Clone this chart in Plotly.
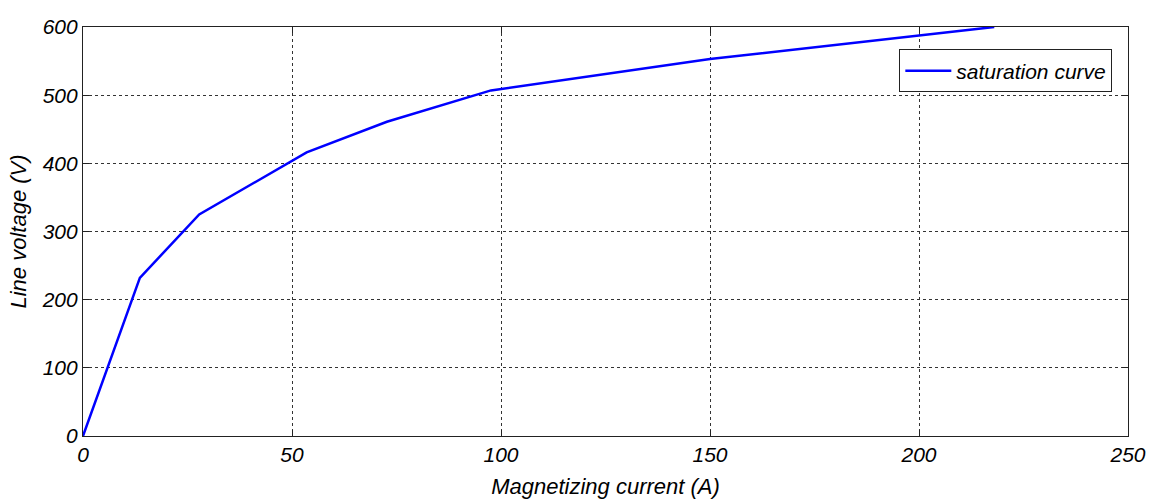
import plotly.graph_objects as go

current_A = [0, 13.6, 27.8, 53.5, 72.7, 97.6, 150, 200, 218]
voltage_V = [0, 232, 325, 416, 461, 507, 553, 588, 600]
series_name = "saturation curve"
x_ticks = [0, 50, 100, 150, 200, 250]
y_ticks = [0, 100, 200, 300, 400, 500, 600]

fig = go.Figure()
fig.add_trace(go.Scatter(x=current_A, y=voltage_V, mode="lines", name=series_name,
                         line=dict(color="#0000ff", width=2.5)))

axis_common = dict(showline=True, linecolor="#222", linewidth=1.2, mirror="ticks",
                   ticks="inside", ticklen=6, tickcolor="#222",
                   showgrid=True, gridcolor="#333", griddash="dot", gridwidth=1,
                   zeroline=False, automargin=False,
                   tickfont=dict(size=21, color="black"))

fig.update_layout(
    width=1155, height=499,
    margin=dict(l=83, r=27, t=27, b=63),
    paper_bgcolor="white", plot_bgcolor="white",
    font=dict(family="Liberation Sans", style="italic", color="black"),
    xaxis=dict(range=[0, 250], tickvals=x_ticks,
               title=dict(text="Magnetizing current (A)", font=dict(size=22), standoff=14),
               **axis_common),
    yaxis=dict(range=[0, 600], tickvals=y_ticks,
               title=dict(text="Line voltage (V)", font=dict(size=22), standoff=8),
               **axis_common),
    showlegend=True,
    legend=dict(x=0.985, y=0.945, xanchor="right", yanchor="top",
                bgcolor="white", bordercolor="#222", borderwidth=1,
                font=dict(size=21, color="black"), itemwidth=46),
)

fig.write_html("out.html",
               config={"displayModeBar": False},
               post_script="document.body.style.margin='0';document.body.style.overflow='hidden';")
